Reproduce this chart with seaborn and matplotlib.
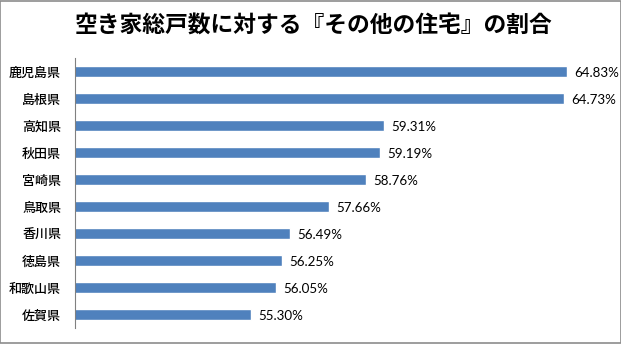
import matplotlib
matplotlib.use("Agg")
import matplotlib.pyplot as plt
import seaborn as sns
import pandas as pd
from matplotlib.patches import Rectangle

prefectures = ["鹿児島県", "島根県", "高知県", "秋田県", "宮崎県",
               "鳥取県", "香川県", "徳島県", "和歌山県", "佐賀県"]
shares = [64.83, 64.73, 59.31, 59.19, 58.76, 57.66, 56.49, 56.25, 56.05, 55.30]
title = "空き家総戸数に対する『その他の住宅』の割合"

df = pd.DataFrame({"pref": prefectures, "share": shares})

sns.set_theme(style="white")
plt.rcParams['font.family'] = ['Noto Sans CJK JP', 'DejaVu Sans']

fig = plt.figure(figsize=(6.21, 3.44), dpi=100)
ax = fig.add_axes([75/621, 1-328/344, (609-75)/621, (328-58)/344])

sns.barplot(data=df, x="share", y="pref", orient="h", color="#4F81BD",
            saturation=1, width=0.41, ax=ax)

ax.set_xlim(50, 66.1)
ax.set_ylim(9.5, -0.5)
ax.set_xlabel("")
ax.set_ylabel("")
ax.set_xticks([])
for s in ["top", "right", "bottom"]:
    ax.spines[s].set_visible(False)
ax.spines["left"].set_color("#808080")
ax.spines["left"].set_linewidth(0.8)
ax.tick_params(axis="y", length=0, pad=10, labelsize=9.4, labelcolor="black")
for lab in ax.get_yticklabels():
    lab.set_fontweight("medium")

for i, v in enumerate(shares):
    ax.text(v + 0.22, i + 0.06, f"{v:.2f}%", va="center", ha="left",
            fontsize=9.6, family=["Lato", "DejaVu Sans"], color="black")

fig.text(0.505, 1-25/344, title, ha="center", va="center",
         fontsize=16.4, fontweight="bold", color="black")

fig.patches.append(Rectangle((0.0008, 0.0015), 0.9984, 0.997, transform=fig.transFigure,
                             fill=False, edgecolor="#8c8c8c", linewidth=1.2))

fig.savefig("out.png", dpi=100)
